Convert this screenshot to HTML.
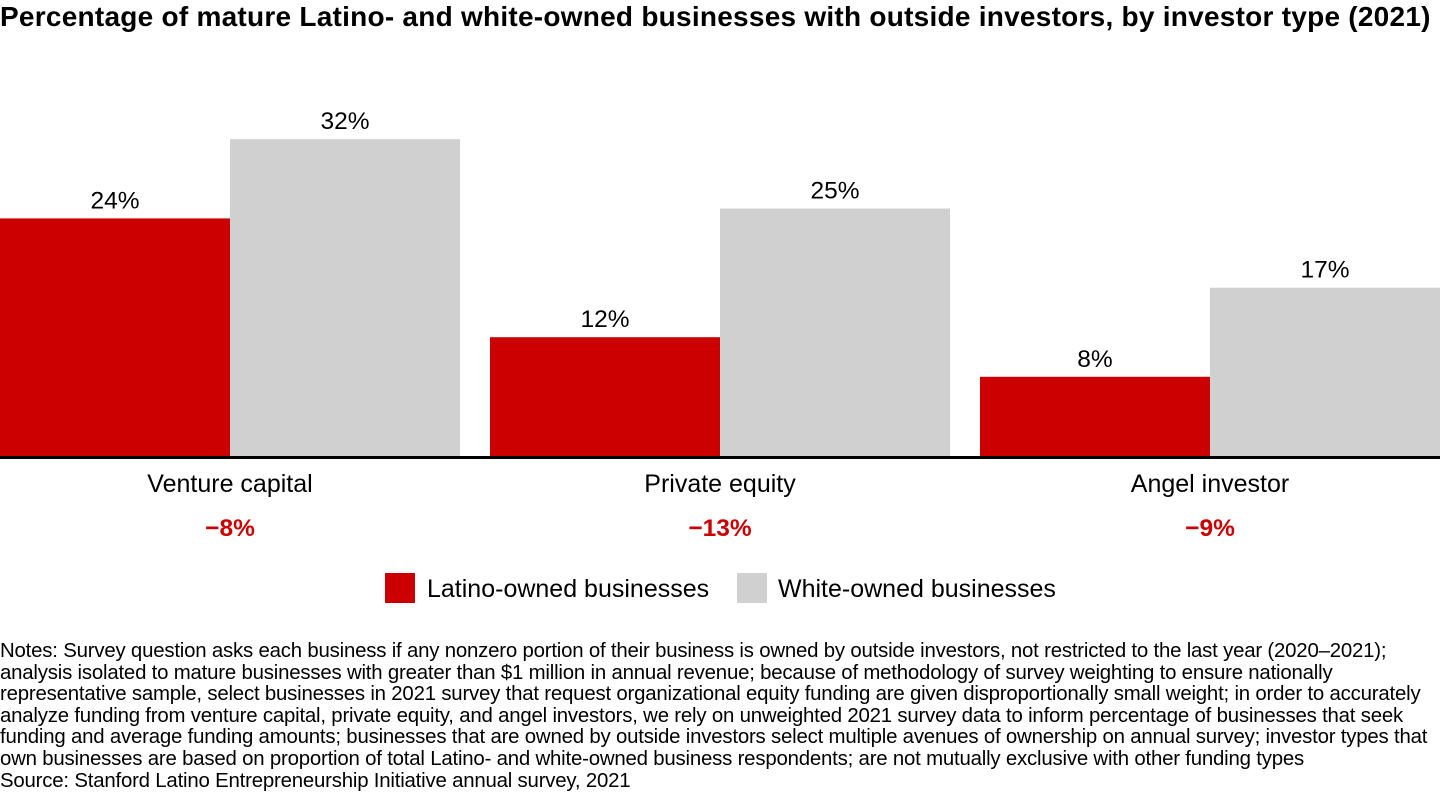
<!DOCTYPE html>
<html><head><meta charset="utf-8"><style>
body{margin:0;width:1440px;height:810px;background:#fff;font-family:"Liberation Sans",Arial,sans-serif;overflow:hidden;position:relative}
#title{position:absolute;left:0;top:1px;font-size:28px;font-weight:bold;color:#000;white-space:nowrap;letter-spacing:0.25px}
#notes{position:absolute;left:0;top:641px;width:1440px;font-size:20.4px;line-height:21.6px;color:#000;white-space:nowrap;letter-spacing:-0.2px}
svg{position:absolute;left:0;top:0}
</style></head><body>
<div id="title">Percentage of mature Latino- and white-owned businesses with outside investors, by investor type (2021)</div>
<svg id="chart" width="1440" height="630"></svg>
<div id="notes">Notes: Survey question asks each business if any nonzero portion of their business is owned by outside investors, not restricted to the last year (2020–2021);<br>analysis isolated to mature businesses with greater than $1 million in annual revenue; because of methodology of survey weighting to ensure nationally<br>representative sample, select businesses in 2021 survey that request organizational equity funding are given disproportionally small weight; in order to accurately<br>analyze funding from venture capital, private equity, and angel investors, we rely on unweighted 2021 survey data to inform percentage of businesses that seek<br>funding and average funding amounts; businesses that are owned by outside investors select multiple avenues of ownership on annual survey; investor types that<br>own businesses are based on proportion of total Latino- and white-owned business respondents; are not mutually exclusive with other funding types<br>Source: Stanford Latino Entrepreneurship Initiative annual survey, 2021</div>
<script>
const categories=["Venture capital","Private equity","Angel investor"];
const latino=[24,12,8];
const white=[32,25,17];
const diffLabels=["−8%","−13%","−9%"];
const NS="http://www.w3.org/2000/svg";
const svg=document.getElementById('chart');
const base=456,pxPer=9.9,groupW=490,barW=230;
const y=v=>base-v*pxPer;
const gx=i=>i*groupW;
function mk(t,a){const e=document.createElementNS(NS,t);for(const k in a)e.setAttribute(k,a[k]);svg.appendChild(e);return e;}
function txt(x,yy,s,size,fill,w){const e=mk('text',{x:x,y:yy,'text-anchor':'middle','font-size':size,fill:fill,'font-weight':w||'normal','font-family':'Liberation Sans, Arial, sans-serif'});e.textContent=s;return e;}
categories.forEach((c,i)=>{
 const x0=gx(i);
 const r=mk('rect',{x:x0,y:y(latino[i]),width:barW,height:latino[i]*pxPer,fill:'#cc0000'});
 
 
 const g=mk('rect',{x:x0+barW,y:y(white[i]),width:barW,height:white[i]*pxPer,fill:'#d0d0d0'});
 
 
 const l1=txt(x0+barW/2,y(latino[i])-10,latino[i]+'%',24.5,'#000');
 
 
 const l2=txt(x0+barW*1.5,y(white[i])-10,white[i]+'%',24.5,'#000');
 
 
 const cl=txt(x0+barW,492,c,25,'#000');
 
 
 const dl=txt(x0+barW,536,diffLabels[i],24.5,'#cc0000','bold');
 
 
});
const ax=mk('rect',{x:0,y:456,width:1440,height:3,fill:'#000'});


const s1=mk('rect',{x:385,y:573,width:30,height:30,fill:'#cc0000'});


const t1=mk('text',{x:427,y:597,'font-size':25,fill:'#000','font-family':'Liberation Sans, Arial, sans-serif'});t1.textContent='Latino-owned businesses';


const s2=mk('rect',{x:737,y:573,width:30,height:30,fill:'#d0d0d0'});


const t2=mk('text',{x:778,y:597,'font-size':25,fill:'#000','font-family':'Liberation Sans, Arial, sans-serif'});t2.textContent='White-owned businesses';


</script>
</body></html>
